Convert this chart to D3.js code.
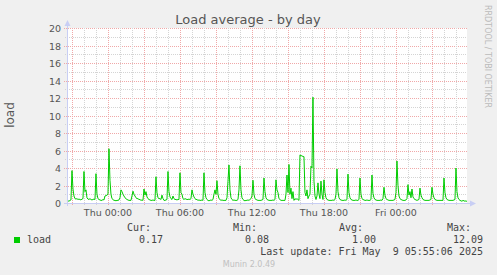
<!DOCTYPE html>
<html>
<head>
<meta charset="utf-8">
<script src="https://cdn.jsdelivr.net/npm/d3@7"></script>
<style>
body { margin: 0; background: #f0f0f0; }
svg text { font-family: "DejaVu Sans", sans-serif; }
.mono { font-family: "DejaVu Sans Mono", monospace; }
</style>
</head>
<body>
<div id="chart"></div>
<script>
var width = 497
var height = 275

// graph window, 400 px at 300 s per px
var graphStart = new Date(2025, 4, 7, 20, 35, 6)
var graphEnd = new Date(2025, 4, 9, 5, 55, 6)
var firstSample = new Date(2025, 4, 7, 20, 35, 0)
var STEP = 5 // minutes

// load, one row per clock hour (5 minute samples), Wed 20:35 -> Fri 05:55
var loadRows = [
    [0.3, 0.25, 0.2, 0.3, 0.35],                                   // Wed 20
    [3.7, 1.6, 0.8, 0.5, 0.45, 0.5, 0.4, 0.45, 0.4, 0.35, 0.45, 0.5], // Wed 21
    [3.6, 1.3, 1.5, 0.6, 0.45, 0.4, 0.5, 0.4, 0.35, 0.4, 0.45, 0.4],
    [3.35, 1.0, 0.5, 0.4, 0.35, 0.3, 0.3, 0.4, 0.35, 0.8, 0.85, 0.9],
    [1.0, 6.2, 2.6, 1.0, 0.5, 0.4, 0.3, 0.3, 0.25, 0.3, 0.3, 0.35],   // Thu 00
    [0.6, 1.5, 1.3, 1.0, 0.8, 0.6, 0.5, 0.4, 0.35, 0.3, 0.3, 0.3],
    [0.8, 1.35, 1.0, 0.8, 0.6, 0.5, 0.5, 0.4, 0.4, 0.3, 0.35, 0.3],
    [1.6, 0.9, 1.3, 0.7, 0.5, 0.4, 0.35, 0.3, 0.3, 0.35, 0.3, 0.3],
    [3.0, 1.2, 0.6, 0.5, 0.5, 0.4, 0.9, 0.5, 0.3, 0.3, 0.35, 0.4],
    [3.6, 1.3, 0.7, 0.5, 0.4, 0.8, 0.5, 0.4, 0.4, 0.35, 0.4, 0.4],
    [3.45, 1.2, 1.0, 0.5, 0.4, 0.5, 0.45, 0.4, 0.4, 0.45, 0.4, 0.5],  // Thu 06
    [1.5, 1.0, 0.7, 0.5, 0.4, 0.4, 0.3, 0.35, 0.3, 0.3, 0.35, 0.3],
    [3.45, 1.2, 0.6, 0.4, 0.3, 0.25, 0.3, 0.35, 0.3, 0.4, 1.0, 1.5],
    [1.0, 2.55, 1.0, 0.5, 0.4, 0.3, 0.35, 0.3, 0.3, 0.3, 0.3, 0.6],
    [2.5, 4.35, 1.5, 0.6, 0.4, 0.3, 0.35, 0.3, 0.3, 0.3, 0.4, 1.5],
    [4.25, 1.5, 0.6, 0.4, 0.3, 0.25, 0.3, 0.3, 0.35, 0.3, 0.4, 0.5],
    [0.8, 2.6, 1.0, 0.5, 0.4, 0.35, 0.3, 0.3, 0.3, 0.3, 0.35, 0.4],   // Thu 12
    [2.85, 1.3, 0.6, 0.4, 0.35, 0.3, 0.3, 0.3, 0.3, 0.35, 0.3, 0.4],
    [2.65, 1.5, 1.2, 0.5, 0.4, 0.3, 0.3, 0.3, 0.3, 0.3, 1.0, 3.2],
    [1.2, 4.4, 1.0, 1.7, 0.5, 1.3, 0.3, 0.5, 0.4, 0.5, 0.4, 0.3],
    [5.5, 5.4, 5.4, 5.3, 5.3, 1.2, 0.8, 1.5, 0.5, 0.8, 1.0, 4.2],
    [4.0, 12.09, 2.5, 0.8, 0.4, 0.8, 2.3, 1.0, 0.5, 2.5, 1.0, 0.4],
    [2.65, 1.2, 0.6, 0.4, 0.35, 0.3, 0.3, 0.3, 0.3, 0.35, 0.3, 0.4],  // Thu 18
    [1.0, 3.9, 1.3, 0.6, 0.4, 0.35, 0.3, 0.3, 0.3, 0.35, 0.3, 0.4],
    [3.3, 1.2, 0.6, 0.4, 0.35, 0.3, 0.3, 0.3, 0.35, 0.3, 0.3, 0.4],
    [2.85, 1.0, 0.5, 0.4, 0.35, 0.3, 0.3, 0.35, 0.3, 0.3, 0.3, 0.4],
    [3.2, 1.1, 0.6, 0.4, 0.35, 0.3, 0.3, 0.3, 0.3, 0.35, 0.3, 0.5],
    [1.8, 0.9, 0.5, 0.4, 0.35, 0.3, 0.3, 0.3, 0.3, 0.3, 0.35, 0.4],
    [1.2, 4.8, 2.0, 0.8, 0.5, 0.4, 0.35, 0.3, 0.3, 0.3, 0.35, 0.5],   // Fri 00
    [2.1, 0.9, 1.3, 0.6, 1.6, 0.7, 0.5, 0.4, 0.35, 0.3, 0.35, 0.4],
    [1.7, 0.9, 0.6, 0.4, 0.35, 0.3, 0.3, 0.3, 0.3, 0.3, 0.35, 0.4],
    [1.8, 1.0, 0.6, 0.4, 0.35, 0.3, 0.3, 0.3, 0.3, 0.3, 0.3, 0.3],
    [2.85, 1.2, 0.6, 0.4, 0.35, 0.3, 0.3, 0.3, 0.3, 0.3, 0.35, 0.4],
    [4.0, 1.3, 0.6, 0.4, 0.3, 0.25, 0.2, 0.3, 0.25, 0.2, 0.25, 0.17]
]

var yTicks = [0, 2, 4, 6, 8, 10, 12, 14, 16, 18, 20]
var legendHeads = ["Cur:", "Min:", "Avg:", "Max:"]
var legendValues = ["0.17", "0.08", "1.00", "12.09"]
var lastUpdate = "Last update: Fri May  9 05:55:06 2025"

var LOAD = []
loadRows.flat().forEach(function(v, i){
    LOAD.push({ t: d3.timeMinute.offset(firstSample, i * STEP), v: v })
})

var gLeft = 67, gRight = 467, gTop = 28, gBottom = 203

var x = d3.scaleTime().domain([graphStart, graphEnd]).range([gLeft, gRight])
var y = d3.scaleLinear().domain([0, 20]).range([gBottom, gTop])

var svg = d3.select("#chart")
    .append("svg")
    .attr("width", width)
    .attr("height", height)

svg.append("rect").attr("width", width).attr("height", height).attr("fill", "#f0f0f0")
svg.append("rect")
    .attr("x", gLeft).attr("y", gTop)
    .attr("width", gRight - gLeft).attr("height", gBottom - gTop)
    .attr("fill", "#fff")

var grid = svg.append("g").attr("shape-rendering", "crispEdges")

// horizontal grid
d3.range(1, 21).forEach(function(v){
    var yy = Math.round(y(v)) + 0.5
    var major = v % 2 == 0
    grid.append("line")
        .attr("x1", gLeft - (major ? 3 : 2)).attr("x2", gRight)
        .attr("y1", yy).attr("y2", yy)
        .attr("stroke", major ? "#f0a8a8" : "#d4d4d4")
        .attr("stroke-dasharray", "1,1")
})

// vertical grid, every hour, red every 3 hours
var hours = d3.timeHour.range(graphStart, graphEnd)
hours.forEach(function(h){
    var xx = Math.round(x(h)) + 0.5
    var major = h.getHours() % 3 == 0
    grid.append("line")
        .attr("x1", xx).attr("x2", xx)
        .attr("y1", gTop).attr("y2", gBottom + (major ? 3 : 2))
        .attr("stroke", major ? "#f0a8a8" : "#d4d4d4")
        .attr("stroke-dasharray", "1,1")
})

// axis labels
svg.append("g").selectAll("text")
    .data(yTicks)
    .enter()
    .append("text")
    .attr("x", 61)
    .attr("y", d => y(d) + 4)
    .attr("text-anchor", "end")
    .attr("font-size", "9.5px")
    .attr("fill", "#555")
    .text(d => d)

var fmt = d3.timeFormat("%a %H:%M")
svg.append("g").selectAll("text")
    .data(hours.filter(h => h.getHours() % 6 == 0))
    .enter()
    .append("text")
    .attr("x", d => x(d))
    .attr("y", 216)
    .attr("text-anchor", "middle")
    .attr("font-size", "9.5px")
    .attr("fill", "#555")
    .text(d => fmt(d))

// the load line
var line = d3.line()
    .x(d => x(d.t))
    .y(d => y(d.v))

svg.append("path")
    .datum(LOAD)
    .attr("d", line)
    .attr("fill", "none")
    .attr("stroke", "#00cc00")
    .attr("stroke-width", 1)

// axes with arrows
var axisColor = "#c8cef4"
svg.append("line")
    .attr("x1", gLeft + 0.5).attr("x2", gLeft + 0.5)
    .attr("y1", gBottom + 3).attr("y2", gTop - 4)
    .attr("stroke", axisColor).attr("shape-rendering", "crispEdges")
svg.append("line")
    .attr("x1", gLeft - 3).attr("x2", gRight + 4)
    .attr("y1", gBottom + 0.5).attr("y2", gBottom + 0.5)
    .attr("stroke", axisColor).attr("shape-rendering", "crispEdges")
svg.append("path")
    .attr("d", `M${gLeft + 0.5},${gTop - 8} L${gLeft + 3.5},${gTop - 2} L${gLeft - 2.5},${gTop - 2} Z`)
    .attr("fill", axisColor)
svg.append("path")
    .attr("d", `M${gRight + 9},${gBottom + 0.5} L${gRight + 3},${gBottom - 2.5} L${gRight + 3},${gBottom + 3.5} Z`)
    .attr("fill", axisColor)

// title and side texts
svg.append("text")
    .attr("x", 248).attr("y", 24)
    .attr("text-anchor", "middle")
    .attr("font-size", "13px")
    .attr("fill", "#555")
    .text("Load average - by day")

svg.append("text")
    .attr("transform", "translate(14,115) rotate(-90)")
    .attr("text-anchor", "middle")
    .attr("font-size", "12px")
    .attr("fill", "#555")
    .text("load")

svg.append("text")
    .attr("transform", "translate(485,5) rotate(90)")
    .attr("font-size", "8px")
    .attr("fill", "#bbb")
    .text("RRDTOOL / TOBI OETIKER")

// legend
var headX = [127, 233, 339, 447]
var valX = [163, 269, 376, 483]
var legend = svg.append("g").attr("class", "mono").attr("font-size", "10px").attr("fill", "#444")

legend.selectAll(".head")
    .data(legendHeads)
    .enter()
    .append("text")
    .attr("class", "mono")
    .attr("x", (d, i) => headX[i])
    .attr("y", 231)
    .text(d => d)

legend.selectAll(".val")
    .data(legendValues)
    .enter()
    .append("text")
    .attr("class", "mono")
    .attr("x", (d, i) => valX[i])
    .attr("y", 243)
    .attr("text-anchor", "end")
    .text(d => d)

legend.append("rect")
    .attr("x", 14).attr("y", 237)
    .attr("width", 6).attr("height", 6)
    .attr("fill", "#00cc00")
legend.append("text")
    .attr("class", "mono")
    .attr("x", 27).attr("y", 243)
    .text("load")

legend.append("text")
    .attr("class", "mono")
    .attr("x", 483).attr("y", 255)
    .attr("text-anchor", "end")
    .style("white-space", "pre")
    .text(lastUpdate)

svg.append("text")
    .attr("x", 249).attr("y", 267)
    .attr("text-anchor", "middle")
    .attr("font-size", "8px")
    .attr("fill", "#c0c0c0")
    .text("Munin 2.0.49")
</script>
</body>
</html>
